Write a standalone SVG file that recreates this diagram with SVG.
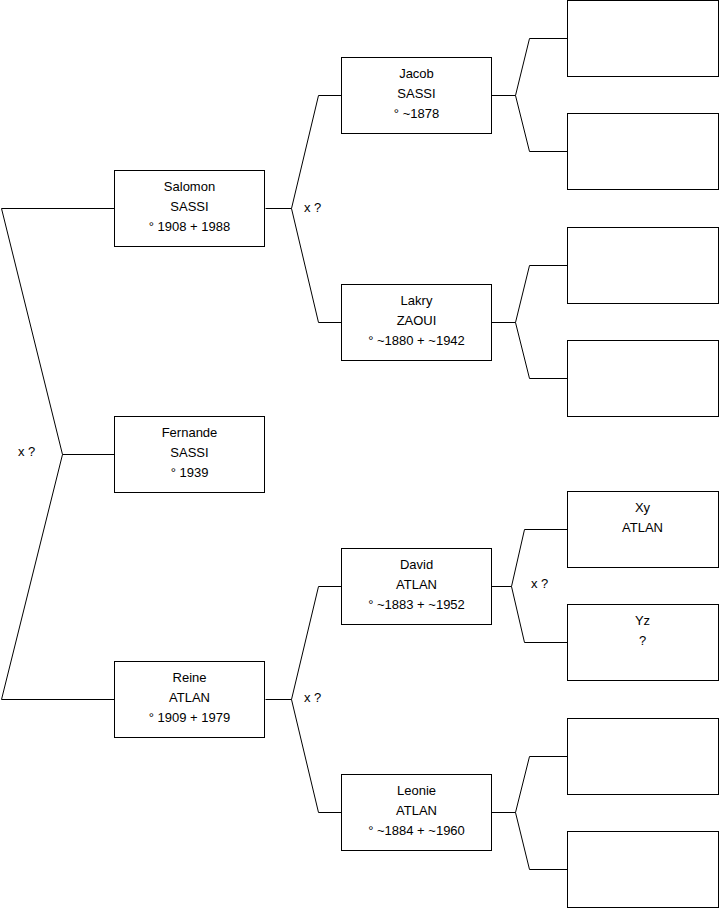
<svg xmlns="http://www.w3.org/2000/svg" width="719" height="908" viewBox="0 0 719 908">
<style>
.box{fill:#fff;stroke:#000;stroke-width:1}
.ln{fill:none;stroke:#000;stroke-width:1}
text{font-family:"Liberation Sans",Arial,sans-serif;font-size:13px;fill:#000;text-anchor:middle}
.lbl{text-anchor:start}
</style>
<rect width="719" height="908" fill="#fff"/>
<g id="connectors">
<path class="ln" d="M114.5,208.5H1.5L62.5,454.5L1.5,699.5H114.5M62.5,454.5H114.5"/>
<path class="ln" d="M265.5,208.5H291.5L318.5,95.5H341.5M291.5,208.5L318.5,322.5H341.5"/>
<path class="ln" d="M265.5,699.5H291.5L318.5,586.5H341.5M291.5,699.5L318.5,812.5H341.5"/>
<path class="ln" d="M491.5,95.5H515.5L529.5,38.5H567.5M515.5,95.5L529.5,151.5H567.5"/>
<path class="ln" d="M491.5,322.5H515.5L529.5,265.5H567.5M515.5,322.5L529.5,378.5H567.5"/>
<path class="ln" d="M491.5,586.5H511.5L524.5,529.5H567.5M511.5,586.5L524.5,642.5H567.5"/>
<path class="ln" d="M491.5,812.5H515.5L529.5,756.5H567.5M515.5,812.5L529.5,869.5H567.5"/>
<text class="lbl" x="18" y="456">x ?</text>
<text class="lbl" x="304" y="212">x ?</text>
<text class="lbl" x="304" y="702">x ?</text>
<text class="lbl" x="531" y="588">x ?</text>
</g>
<g id="salomon"><rect class="box" x="114.5" y="170.5" width="150" height="76"/><text x="189.5" y="191">Salomon</text><text x="189.5" y="211">SASSI</text><text x="189.5" y="231">° 1908 + 1988</text></g>
<g id="fernande"><rect class="box" x="114.5" y="416.5" width="150" height="76"/><text x="189.5" y="437">Fernande</text><text x="189.5" y="457">SASSI</text><text x="189.5" y="477">° 1939</text></g>
<g id="reine"><rect class="box" x="114.5" y="661.5" width="150" height="76"/><text x="189.5" y="682">Reine</text><text x="189.5" y="702">ATLAN</text><text x="189.5" y="722">° 1909 + 1979</text></g>
<g id="jacob"><rect class="box" x="341.5" y="57.5" width="150" height="76"/><text x="416.5" y="78">Jacob</text><text x="416.5" y="98">SASSI</text><text x="416.5" y="118">° ~1878</text></g>
<g id="lakry"><rect class="box" x="341.5" y="284.5" width="150" height="76"/><text x="416.5" y="305">Lakry</text><text x="416.5" y="325">ZAOUI</text><text x="416.5" y="345">° ~1880 + ~1942</text></g>
<g id="david"><rect class="box" x="341.5" y="548.5" width="150" height="76"/><text x="416.5" y="569">David</text><text x="416.5" y="589">ATLAN</text><text x="416.5" y="609">° ~1883 + ~1952</text></g>
<g id="leonie"><rect class="box" x="341.5" y="774.5" width="150" height="76"/><text x="416.5" y="795">Leonie</text><text x="416.5" y="815">ATLAN</text><text x="416.5" y="835">° ~1884 + ~1960</text></g>
<g id="p1"><rect class="box" x="567.5" y="0.5" width="151" height="76"/></g>
<g id="p2"><rect class="box" x="567.5" y="113.5" width="151" height="76"/></g>
<g id="p3"><rect class="box" x="567.5" y="227.5" width="151" height="76"/></g>
<g id="p4"><rect class="box" x="567.5" y="340.5" width="151" height="76"/></g>
<g id="xy"><rect class="box" x="567.5" y="491.5" width="151" height="76"/><text x="642.5" y="512">Xy</text><text x="642.5" y="532">ATLAN</text></g>
<g id="yz"><rect class="box" x="567.5" y="604.5" width="151" height="76"/><text x="642.5" y="625">Yz</text><text x="642.5" y="645">?</text></g>
<g id="p7"><rect class="box" x="567.5" y="718.5" width="151" height="76"/></g>
<g id="p8"><rect class="box" x="567.5" y="831.5" width="151" height="76"/></g>
</svg>
